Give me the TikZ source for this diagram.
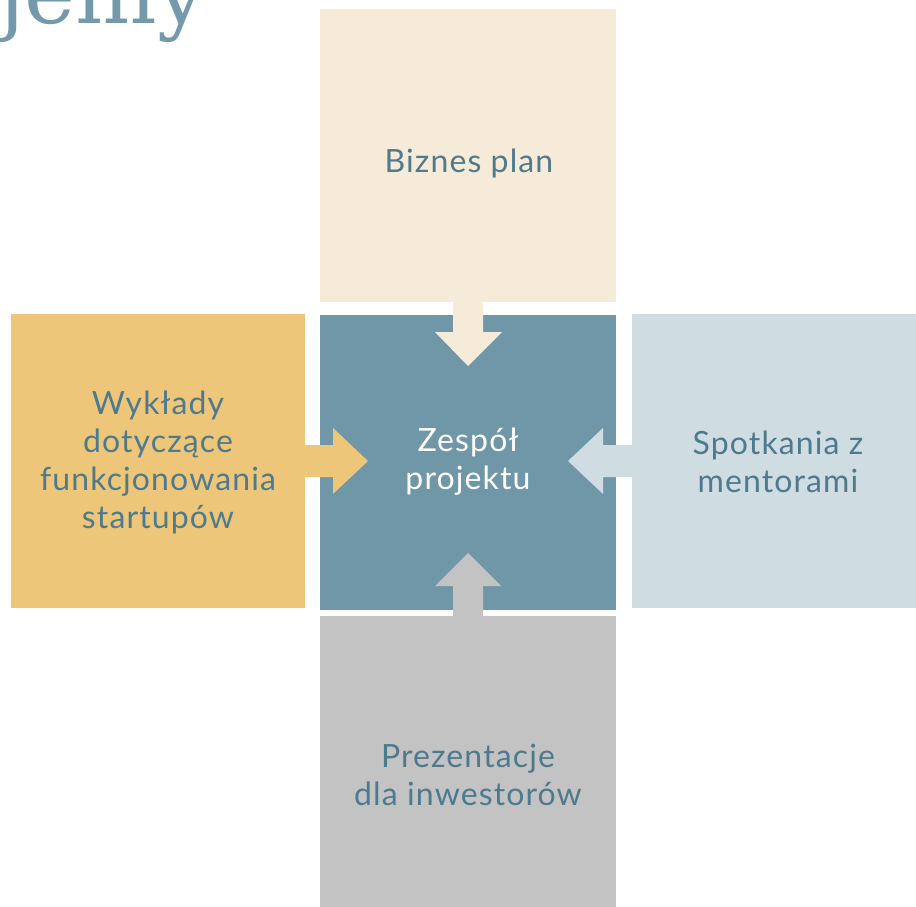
\documentclass[tikz,border=0pt]{standalone}
\usepackage{fontspec}
\setmainfont[LetterSpace=3.5]{Lato}
\newfontfamily\titlefont{DejaVu Serif}
\definecolor{cTop}{HTML}{F6EBD8}
\definecolor{cMid}{HTML}{7097A8}
\definecolor{cLeft}{HTML}{EEC67A}
\definecolor{cRight}{HTML}{CFDCE2}
\definecolor{cBot}{HTML}{C3C3C3}
\definecolor{cText}{HTML}{4E7A8E}
\definecolor{cTitle}{HTML}{7399AA}
\begin{document}
\begin{tikzpicture}[x=1pt,y=-1pt,
  tile/.style={rectangle,inner sep=0pt,draw=none,align=center,
    font=\fontsize{32}{38}\selectfont,text=cText}]
\useasboundingbox (0,0) rectangle (916,907);
\clip (0,0) rectangle (916,907);
% title fragment
\node[anchor=base east,inner sep=0pt,text=cTitle,font=\titlefont\fontsize{86}{90}\selectfont] (title) at (206,24) {ujemy};
% tiles
\node[tile,fill=cTop,minimum width=296pt,minimum height=293pt] (top) at (468,155.5) {};
\node[tile,fill=cMid,minimum width=296pt,minimum height=295pt] (mid) at (468,462.5) {};
\node[tile,fill=cLeft,minimum width=294pt,minimum height=294pt] (left) at (158,461) {};
\node[tile,fill=cRight,minimum width=284pt,minimum height=294pt] (right) at (774,461) {};
\node[tile,fill=cBot,minimum width=296pt,minimum height=291pt] (bot) at (468,761.5) {};
% arrows
\fill[cTop] (453,300) -- (483,300) -- (483,332) -- (502,332) -- (468,366) -- (435,332) -- (453,332) -- cycle;
\fill[cLeft] (303,445) -- (333,445) -- (333,428) -- (368,461) -- (333,494) -- (333,477) -- (303,477) -- cycle;
\fill[cRight] (634,445) -- (603,445) -- (603,428) -- (568,461) -- (603,494) -- (603,477) -- (634,477) -- cycle;
\fill[cBot] (453,618) -- (453,586) -- (435,586) -- (468,553) -- (501,586) -- (483,586) -- (483,618) -- cycle;
% labels
\node[tile] (topt) at (469,163) {Biznes plan};
\node[tile,text=white] (midt) at (468,462) {Zespół\\projektu};
\node[tile] (leftt) at (158,462) {Wykłady\\dotyczące\\funkcjonowania\\startupów};
\node[tile] (rightt) at (778,462) {Spotkania z\\mentorami};
\node[tile] (bott) at (468,775) {Prezentacje\\dla inwestorów};
\end{tikzpicture}
\end{document}
